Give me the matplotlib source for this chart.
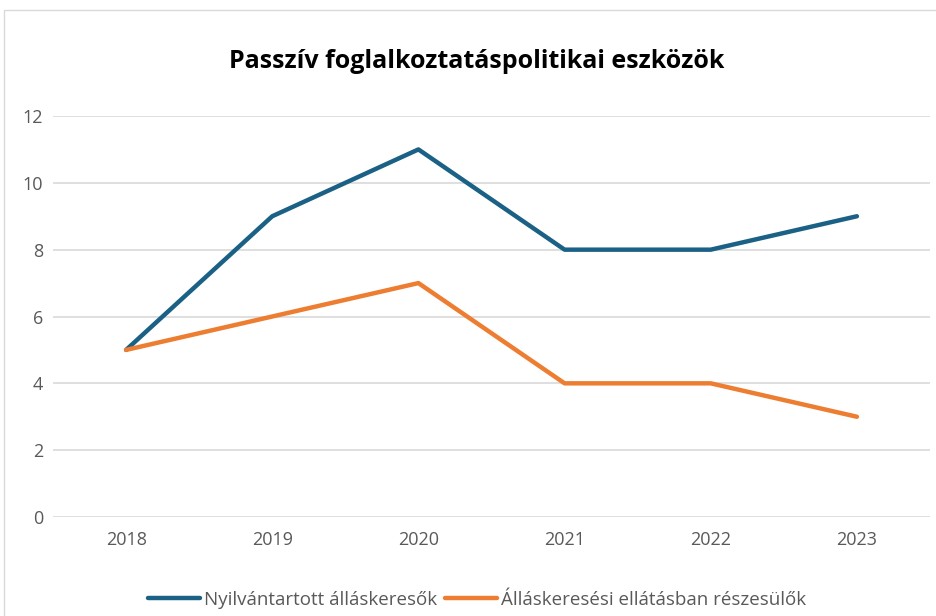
import matplotlib.pyplot as plt
from matplotlib.patches import Rectangle

years = ["2018", "2019", "2020", "2021", "2022", "2023"]
nyilvantartott = [5, 9, 11, 8, 8, 9]
ellatasban = [5, 6, 7, 4, 4, 3]
yticks = [0, 2, 4, 6, 8, 10, 12]

plt.rcParams['font.family'] = ['Open Sans', 'DejaVu Sans']

fig = plt.figure(figsize=(9.36, 6.16), dpi=100)
fig.patches.append(Rectangle((4 / 936, -0.1), 1.2, 1 - 10 / 616 + 0.1,
                             transform=fig.transFigure, fill=False,
                             edgecolor='#d9d9d9', linewidth=1))
ax = fig.add_axes([53 / 936, 1 - 517 / 616, 877 / 936, 401 / 616])

x = range(len(years))
ax.plot(x, nyilvantartott, color='#1b6185', linewidth=3.2,
        label='Nyilvántartott álláskeresők', solid_capstyle='round')
ax.plot(x, ellatasban, color='#ed7d31', linewidth=3.2,
        label='Álláskeresési ellátásban részesülők', solid_capstyle='round')

ax.set_xlim(-0.5, len(years) - 0.5)
ax.set_ylim(0, 12)
ax.set_xticks(list(x))
ax.set_xticklabels(years)
ax.set_yticks(yticks)
ax.grid(axis='y', color='#d9d9d9', linewidth=1.2)
ax.set_axisbelow(True)
for s in ax.spines.values():
    s.set_visible(False)
ax.tick_params(length=0, labelsize=13, colors='#595959', pad=7)
ax.tick_params(axis='x', pad=10)

fig.text(477 / 936, 1 - 62 / 616, 'Passzív foglalkoztatáspolitikai eszközök',
         ha='center', va='center', fontsize=18, fontweight='bold', color='black')

fig.legend(loc='center', bbox_to_anchor=(477 / 936, 1 - 600 / 616), ncol=2,
           frameon=False, fontsize=13.5, handlelength=2.8, columnspacing=0.4,
           handletextpad=0.2, labelcolor='#595959')

fig.savefig('out.png', dpi=100)
